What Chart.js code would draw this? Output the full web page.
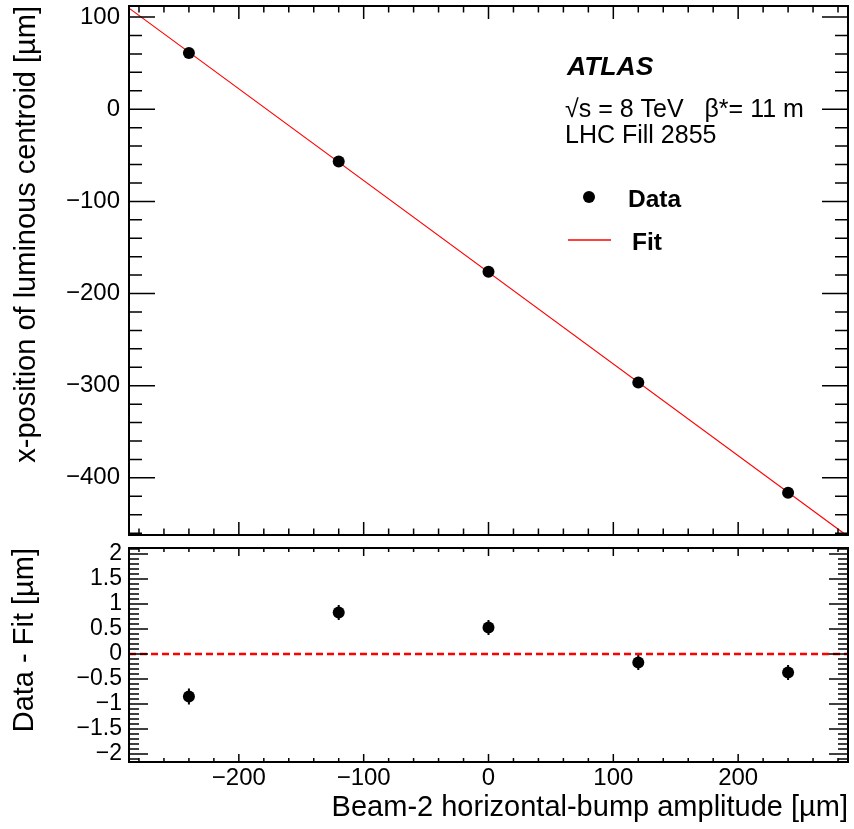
<!DOCTYPE html>
<html>
<head>
<meta charset="utf-8">
<script src="https://cdn.jsdelivr.net/npm/chart.js@4.4.1/dist/chart.umd.min.js"></script>
<style>
  body { margin: 0; background: #fff; }
  #wrap { position: relative; width: 854px; height: 829px; }
  #topChart { position: absolute; left: 0; top: 0; }
  #resChart { position: absolute; left: 0; top: 540px; }
</style>
</head>
<body>
<div id="wrap">
  <canvas id="topChart" width="854" height="545"></canvas>
  <canvas id="resChart" width="854" height="289"></canvas>
</div>
<script>
// values
const bumpAmplitude = [-240, -120, 0, 120, 240];        // um
const centroidPos = [61.0, -56.7, -176.4, -296.5, -416.1]; // um
const residual = [-0.85, 0.83, 0.53, -0.17, -0.37];   // data - fit
const residualErr = [0.16, 0.15, 0.15, 0.15, 0.15];
const fitLineX = [-288, 288];
const fitLineY = [109.7, -463.5];
const zeroLineX = [-288, 288];
const zeroLineY = [0, 0];

// tick labels
const xTickLabels = [-200, -100, 0, 100, 200];
const topYTickLabels = [-400, -300, -200, -100, 0, 100];
const resYTickLabels = [-2, -1.5, -1, -0.5, 0, 0.5, 1, 1.5, 2];

const FONT = "'Liberation Sans', Arial, Helvetica, sans-serif";
Chart.defaults.font.family = FONT;
Chart.defaults.color = '#000';

function toPoints(xs, ys) {
    return xs.map((x, i) => ({ x: x, y: ys[i] }));
}

// ROOT style number: real minus sign
function fmt(v) {
    return v < 0 ? '\u2212' + Math.abs(v) : String(v);
}

function fixedTicks(list) {
    return scale => { scale.ticks = list.map(v => ({ value: v })); };
}

// fixed axis size, and no extra room for the end labels
function fixSize(prop, size) {
    return scale => {
        scale[prop] = size;
        scale.paddingTop = 0;
        scale.paddingBottom = 0;
        scale.paddingLeft = 0;
        scale.paddingRight = 0;
    };
}

// frame around the plot area with ticks pointing inwards (major + minor)
const frameTicks = {
    id: 'frameTicks',
    afterDraw(chart, args, opts) {
        const { ctx, chartArea: a, scales } = chart;
        const xs = scales.x, ys = scales.y;
        ctx.save();
        ctx.strokeStyle = '#000';
        ctx.lineWidth = 1.5;
        ctx.beginPath();
        for (let i = Math.ceil(xs.min / opts.xMinor); i * opts.xMinor <= xs.max; i++) {
            const v = i * opts.xMinor;
            const major = Math.abs(v / opts.xMajor - Math.round(v / opts.xMajor)) < 1e-6;
            const len = major ? opts.xLen[0] : opts.xLen[1];
            const px = xs.getPixelForValue(v);
            ctx.moveTo(px, a.bottom); ctx.lineTo(px, a.bottom - len);
            ctx.moveTo(px, a.top); ctx.lineTo(px, a.top + len);
        }
        for (let i = Math.ceil(ys.min / opts.yMinor - 1e-6); i * opts.yMinor <= ys.max + 1e-9; i++) {
            const v = i * opts.yMinor;
            const major = Math.abs(v / opts.yMajor - Math.round(v / opts.yMajor)) < 1e-6;
            const len = major ? opts.yLen[0] : opts.yLen[1];
            const py = ys.getPixelForValue(v);
            ctx.moveTo(a.left, py); ctx.lineTo(a.left + len, py);
            ctx.moveTo(a.right, py); ctx.lineTo(a.right - len, py);
        }
        ctx.stroke();
        ctx.lineWidth = 2;
        ctx.strokeRect(a.left, a.top, a.width, a.height);
        ctx.restore();
    }
};

// vertical error bars on the residual points
const errorBars = {
    id: 'errorBars',
    beforeDatasetsDraw(chart) {
        const { ctx, scales } = chart;
        ctx.save();
        ctx.strokeStyle = '#000';
        ctx.lineWidth = 2;
        ctx.beginPath();
        bumpAmplitude.forEach((x, i) => {
            const px = scales.x.getPixelForValue(x);
            ctx.moveTo(px, scales.y.getPixelForValue(residual[i] - residualErr[i]));
            ctx.lineTo(px, scales.y.getPixelForValue(residual[i] + residualErr[i]));
        });
        ctx.stroke();
        ctx.restore();
    }
};

// ATLAS label, run info and the legend inside the upper pad
const atlasLabel = {
    id: 'atlasLabel',
    afterDraw(chart) {
        const ctx = chart.ctx;
        ctx.save();
        ctx.fillStyle = '#000';
        ctx.textBaseline = 'alphabetic';
        ctx.textAlign = 'left';
        ctx.font = 'italic bold 26.5px ' + FONT;
        ctx.fillText('ATLAS', 567, 75);
        ctx.font = '25px ' + FONT;
        ctx.fillText('\u221As = 8 TeV   \u03B2*= 11 m', 565, 117);
        ctx.fillText('LHC Fill 2855', 565, 143);

        // legend
        ctx.beginPath();
        ctx.arc(589, 197, 6, 0, Math.PI * 2);
        ctx.fill();
        ctx.strokeStyle = '#ff0000';
        ctx.lineWidth = 1.3;
        ctx.beginPath();
        ctx.moveTo(568, 240);
        ctx.lineTo(611, 240);
        ctx.stroke();
        ctx.font = 'bold 24.5px ' + FONT;
        ctx.fillText('Data', 628, 207);
        ctx.fillText('Fit', 632, 250);
        ctx.restore();
    }
};

const tickFont = { family: FONT, size: 24 };
const titleFont = { family: FONT, size: 29 };
const noGrid = { display: false, drawTicks: false };

// upper pad: centroid position vs bump amplitude
new Chart(document.getElementById('topChart'), {
    type: 'scatter',
    data: {
        datasets: [{
            label: 'Data',
            data: toPoints(bumpAmplitude, centroidPos),
            backgroundColor: '#000',
            borderWidth: 0,
            pointRadius: 6
        }, {
            label: 'Fit',
            data: toPoints(fitLineX, fitLineY),
            showLine: true,
            borderColor: '#ff0000',
            borderWidth: 1.2,
            pointRadius: 0
        }]
    },
    options: {
        responsive: false,
        animation: false,
        layout: { padding: { top: 5, right: 3, bottom: 10, left: 0 } },
        plugins: {
            legend: { display: false },
            tooltip: { enabled: false },
            frameTicks: { xMinor: 20, xMajor: 100, yMinor: 20, yMajor: 100, xLen: [13, 6.5], yLen: [26, 13] }
        },
        scales: {
            x: { type: 'linear', display: false, min: -288, max: 288 },
            y: {
                type: 'linear',
                min: -462,
                max: 112,
                afterFit: fixSize('width', 129),
                afterBuildTicks: fixedTicks(topYTickLabels),
                grid: noGrid,
                border: { display: false },
                ticks: { font: tickFont, padding: 9, autoSkip: false, callback: v => fmt(v) },
                title: {
                    display: true,
                    text: 'x-position of luminous centroid [\u00B5m]',
                    align: 'end',
                    font: titleFont,
                    padding: { top: 10, bottom: 0 }
                }
            }
        }
    },
    plugins: [frameTicks, atlasLabel]
});

// lower pad: residuals
new Chart(document.getElementById('resChart'), {
    type: 'scatter',
    data: {
        datasets: [{
            label: 'Data - Fit',
            data: toPoints(bumpAmplitude, residual),
            backgroundColor: '#000',
            borderWidth: 0,
            pointRadius: 6
        }, {
            label: 'zero',
            data: toPoints(zeroLineX, zeroLineY),
            showLine: true,
            borderColor: '#ff0000',
            borderWidth: 2.5,
            borderDash: [7, 4],
            pointRadius: 0
        }]
    },
    options: {
        responsive: false,
        animation: false,
        layout: { padding: { top: 8, right: 3, bottom: 0, left: 0 } },
        plugins: {
            legend: { display: false },
            tooltip: { enabled: false },
            frameTicks: { xMinor: 20, xMajor: 100, yMinor: 0.1, yMajor: 0.5, xLen: [8, 4], yLen: [19, 10] }
        },
        scales: {
            x: {
                type: 'linear',
                min: -288,
                max: 288,
                afterFit: fixSize('height', 67),
                afterBuildTicks: fixedTicks(xTickLabels),
                grid: noGrid,
                border: { display: false },
                ticks: { font: tickFont, padding: 2, autoSkip: false, maxRotation: 0, callback: v => fmt(v) },
                title: {
                    display: true,
                    text: 'Beam-2 horizontal-bump amplitude [\u00B5m]',
                    align: 'end',
                    font: titleFont,
                    padding: { top: 0, bottom: 4 }
                }
            },
            y: {
                type: 'linear',
                min: -2.16,
                max: 2.12,
                afterFit: fixSize('width', 129),
                afterBuildTicks: fixedTicks(resYTickLabels),
                grid: noGrid,
                border: { display: false },
                ticks: { font: { family: FONT, size: 23 }, padding: 7, autoSkip: false, callback: v => fmt(v) },
                title: {
                    display: true,
                    text: 'Data - Fit [\u00B5m]',
                    align: 'end',
                    font: titleFont,
                    padding: { top: 8, bottom: 0 }
                }
            }
        }
    },
    plugins: [frameTicks, errorBars]
});
</script>
</body>
</html>
